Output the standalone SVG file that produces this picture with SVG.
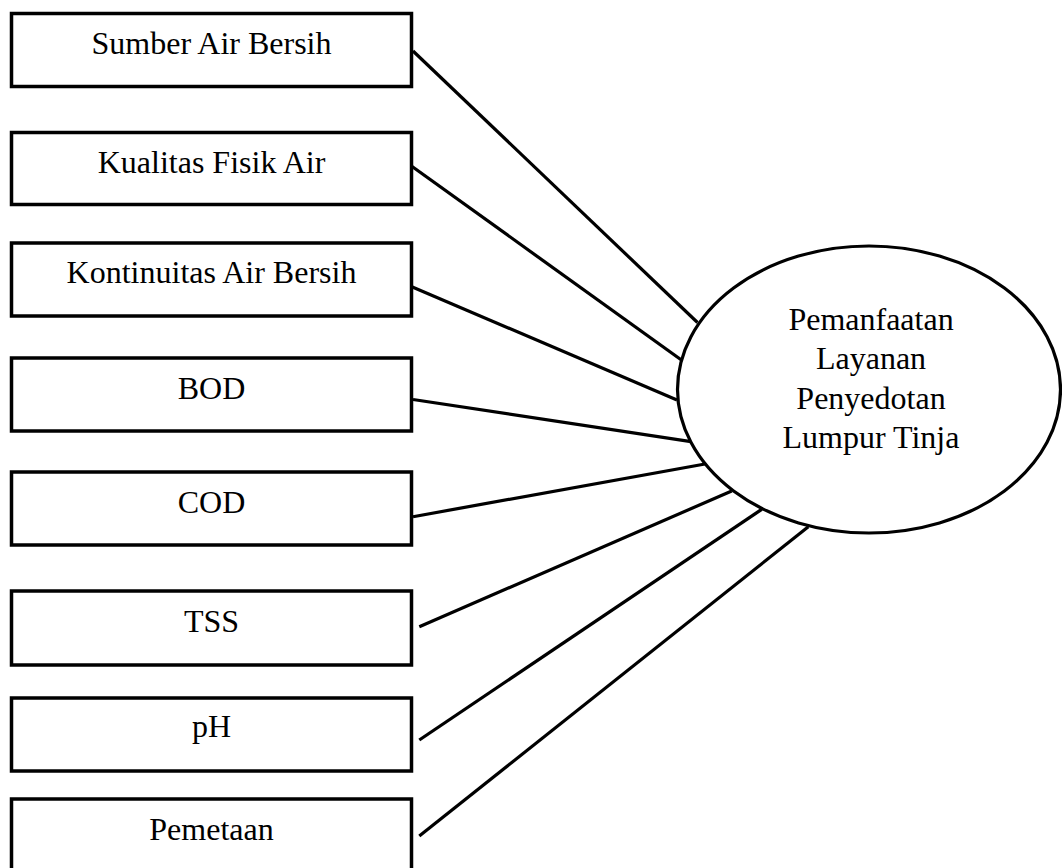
<svg xmlns="http://www.w3.org/2000/svg" width="1062" height="868" viewBox="0 0 1062 868">
<style>
.box{fill:#fff;stroke:#000;stroke-width:3.5}
.lbl{font-family:"Liberation Serif","Times New Roman",serif;font-size:32px;fill:#000;text-anchor:middle}
.con line{stroke:#000;stroke-width:3.2;stroke-linecap:butt}
.ell{fill:#fff;stroke:#000;stroke-width:3.2}
</style>
<rect width="1062" height="868" fill="#fff"/>
<g id="connectors" class="con">
<line x1="413" y1="51" x2="697.5" y2="322.5"/>
<line x1="410" y1="165" x2="687" y2="364"/>
<line x1="410" y1="286" x2="677" y2="400"/>
<line x1="413" y1="399.5" x2="691" y2="441.7"/>
<line x1="413" y1="516.7" x2="705" y2="464"/>
<line x1="419.3" y1="626.7" x2="731.7" y2="491"/>
<line x1="419.3" y1="740" x2="761.7" y2="509.3"/>
<line x1="419.3" y1="836" x2="808.3" y2="526.7"/>
</g>
<g id="n-target">
<ellipse class="ell" cx="869" cy="389.5" rx="191.5" ry="143.5"/>
<text class="lbl" x="871" y="329.5">Pemanfaatan</text>
<text class="lbl" x="871" y="369">Layanan</text>
<text class="lbl" x="871" y="408.5">Penyedotan</text>
<text class="lbl" x="871" y="448">Lumpur Tinja</text>
</g>
<g id="n-sumber"><rect class="box" x="11.5" y="13.5" width="400" height="73"/><text class="lbl" x="211.5" y="54.3">Sumber Air Bersih</text></g>
<g id="n-kualitas"><rect class="box" x="11.5" y="132.5" width="400" height="72"/><text class="lbl" x="211.5" y="172.5">Kualitas Fisik Air</text></g>
<g id="n-kontinuitas"><rect class="box" x="11.5" y="243" width="400" height="73"/><text class="lbl" x="211.5" y="283">Kontinuitas Air Bersih</text></g>
<g id="n-bod"><rect class="box" x="11.5" y="358" width="400" height="73"/><text class="lbl" x="211.5" y="399">BOD</text></g>
<g id="n-cod"><rect class="box" x="11.5" y="472" width="400" height="73"/><text class="lbl" x="211.5" y="513.3">COD</text></g>
<g id="n-tss"><rect class="box" x="11.5" y="591" width="400" height="74"/><text class="lbl" x="211.5" y="631.7">TSS</text></g>
<g id="n-ph"><rect class="box" x="11.5" y="698" width="400" height="73"/><text class="lbl" x="211.5" y="737">pH</text></g>
<g id="n-pemetaan"><rect class="box" x="11.5" y="799" width="400" height="73"/><text class="lbl" x="211.5" y="839.5">Pemetaan</text></g>
</svg>
